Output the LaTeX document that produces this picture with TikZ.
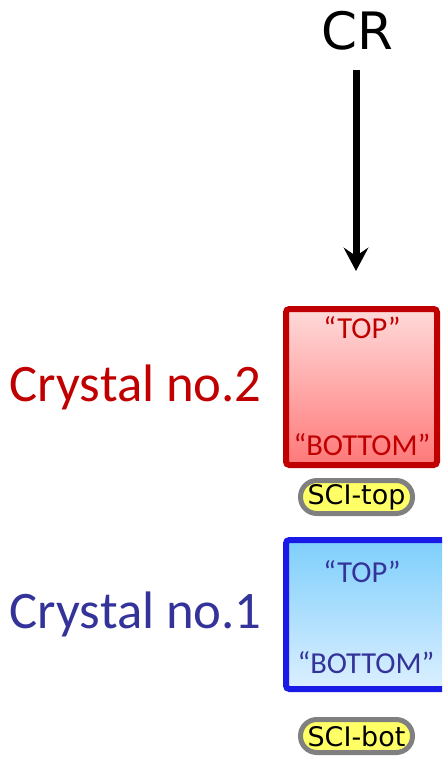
\documentclass[tikz,border=0pt]{standalone}
\usepackage{fontspec}
\setmainfont{Carlito}
\newfontfamily\comicfont{DejaVu Sans}
\usetikzlibrary{positioning,arrows.meta}
\definecolor{crysred}{HTML}{C00000}
\definecolor{redtop}{HTML}{FFDADA}
\definecolor{redbot}{HTML}{FF7878}
\definecolor{crysblue}{HTML}{1A1AE6}
\definecolor{bluetop}{HTML}{7ECFFC}
\definecolor{bluebot}{HTML}{DCEFFF}
\definecolor{labblue}{HTML}{333399}
\definecolor{scigray}{HTML}{808080}
\definecolor{sciyellow}{HTML}{FFFF66}
\tikzset{
  crystal/.style={draw,rectangle,rounded corners=1mm,line width=1.8mm,inner sep=0pt},
  crylabel/.style={inner sep=0pt,font=\fontsize{45}{45}\selectfont},
  endtext/.style={inner sep=0pt,font=\fontsize{26}{26}\selectfont},
  scibox/.style={draw=scigray,fill=sciyellow,line width=1.5mm,rounded corners=4.9mm,
    minimum width=33.6mm,minimum height=9.9mm,inner sep=0pt,
    font=\comicfont\fontsize{23}{23}\selectfont},
}
\begin{document}
\begin{tikzpicture}[x=0.3mm,y=-0.3mm]
        \clip (0,0) rectangle (442,757);
        %% Cosmic ray
        \node[inner sep=0pt,font=\comicfont\fontsize{44}{44}\selectfont] (cr) at (357,31) {CR};
        \coordinate (beamtop) at (356,70);
        \coordinate (beamend) at (356,271);
        \draw[line width=2.1mm,-{Stealth[length=7mm,width=7.4mm,inset=2.5mm]}] (beamtop) -- (beamend);
        %% Crystal no.2
        \node[crystal,draw=crysred,top color=redtop,bottom color=redbot,
            minimum width=45.3mm,minimum height=46.8mm] (box2) at (361.5,387) {};
        \node[endtext,text=crysred] (top2) at (362,328) {“TOP”};
        \node[endtext,text=crysred] (bot2) at (362,445) {“BOTTOM”};
        \node[crylabel,text=crysred,left=6.3mm of box2] (lab2) {Crystal no.2};
        \node[scibox] (scitop) at (356.5,497) {SCI-top};
        %% Crystal no.1
        \node[crystal,draw=crysblue,top color=bluetop,bottom color=bluebot,
            minimum width=48mm,minimum height=44.7mm] (box1) at (366,614.5) {};
        \node[endtext,text=labblue] (top1) at (362,572) {“TOP”};
        \node[endtext,text=labblue] (bot1) at (366,663) {“BOTTOM”};
        \node[crylabel,text=labblue,left=6.3mm of box1] (lab1) {Crystal no.1};
        \node[scibox] (scibot) at (356.5,736) {SCI-bot};
\end{tikzpicture}
\end{document}
